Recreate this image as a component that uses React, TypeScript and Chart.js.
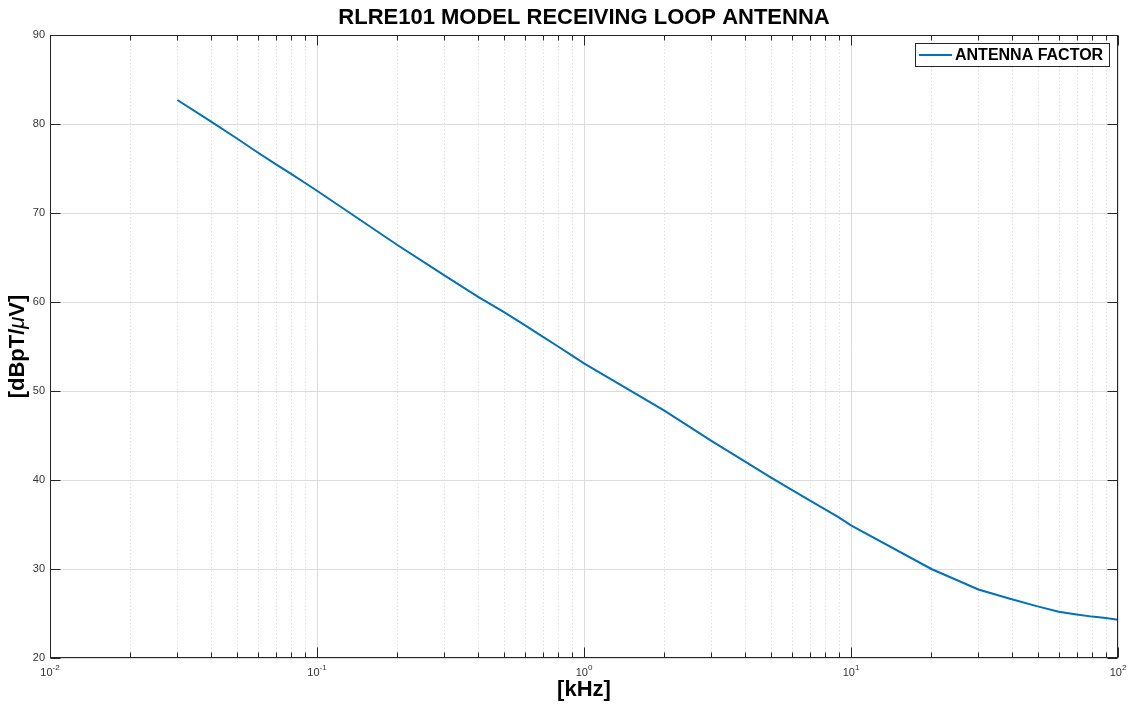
import React, { useEffect, useRef } from 'react';
import { Chart, registerables } from 'chart.js';

Chart.register(...registerables);

const chartTitle = 'RLRE101 MODEL RECEIVING LOOP ANTENNA';
const seriesLabel = 'ANTENNA FACTOR';
const xAxisLabel = '[kHz]';
const yAxisLabelParts = ['[dBpT/', 'μ', 'V]'];

const frequencyKHz = [
  0.03, 0.04, 0.05, 0.06, 0.07, 0.08, 0.09,
  0.1, 0.2, 0.3, 0.4, 0.5, 0.6, 0.7, 0.8, 0.9,
  1, 2, 3, 4, 5, 6, 7, 8, 9,
  10, 20, 30, 40, 50, 60, 70, 80, 90, 100,
];
const antennaFactorDb = [
  82.7, 80.3, 78.4, 76.8, 75.5, 74.4, 73.4,
  72.5, 66.4, 63.0, 60.6, 58.9, 57.4, 56.1, 55.0, 54.0,
  53.1, 47.8, 44.4, 42.1, 40.3, 38.9, 37.7, 36.7, 35.8,
  34.9, 30.0, 27.7, 26.6, 25.8, 25.2, 24.9, 24.65, 24.5, 24.3,
];

const xDecadeExponents = [-2, -1, 0, 1, 2];
const xMin = 0.01;
const xMax = 100;
const yMin = 20;
const yMax = 90;
const yStep = 10;

const FONT = '"Liberation Sans", Arial, Helvetica, sans-serif';
const AXIS_COLOR = '#262626';
const LINE_COLOR = '#0072BD';

const matlabPlugin = {
  id: 'matlabAxes',
  beforeDatasetsDraw(chart: any) {
    const { ctx, chartArea: a } = chart;
    const x = chart.scales.x;
    const y = chart.scales.y;
    ctx.save();
    ctx.lineWidth = 1;
    const vline = (px: number) => {
      ctx.beginPath();
      ctx.moveTo(px, a.top);
      ctx.lineTo(px, a.bottom);
      ctx.stroke();
    };
    ctx.strokeStyle = '#e2e2e2';
    ctx.setLineDash([1.5, 2]);
    for (const e of xDecadeExponents.slice(0, -1)) {
      for (let m = 2; m <= 9; m++) {
        vline(Math.round(x.getPixelForValue(m * Math.pow(10, e))) + 0.5);
      }
    }
    ctx.setLineDash([]);
    ctx.strokeStyle = '#dcdcdc';
    for (const e of xDecadeExponents) {
      vline(Math.round(x.getPixelForValue(Math.pow(10, e))) + 0.5);
    }
    for (let v = yMin; v <= yMax; v += yStep) {
      const py = Math.round(y.getPixelForValue(v)) + 0.5;
      ctx.beginPath();
      ctx.moveTo(a.left, py);
      ctx.lineTo(a.right, py);
      ctx.stroke();
    }
    ctx.restore();
  },
  afterDatasetsDraw(chart: any) {
    const { ctx, chartArea: a } = chart;
    const x = chart.scales.x;
    const y = chart.scales.y;
    ctx.save();
    ctx.strokeStyle = AXIS_COLOR;
    ctx.lineWidth = 1;
    const seg = (x1: number, y1: number, x2: number, y2: number) => {
      ctx.beginPath();
      ctx.moveTo(x1, y1);
      ctx.lineTo(x2, y2);
      ctx.stroke();
    };
    const L = Math.round(a.left) + 0.5;
    const R = Math.round(a.right) - 0.5;
    const T = Math.round(a.top) + 0.5;
    const B = Math.round(a.bottom) - 0.5;
    ctx.strokeRect(L, T, R - L, B - T);
    for (const e of xDecadeExponents) {
      const px = Math.round(x.getPixelForValue(Math.pow(10, e))) + 0.5;
      seg(px, B, px, B - 10);
      seg(px, T, px, T + 10);
      if (e < xDecadeExponents[xDecadeExponents.length - 1]) {
        for (let m = 2; m <= 9; m++) {
          const mx = Math.round(x.getPixelForValue(m * Math.pow(10, e))) + 0.5;
          seg(mx, B, mx, B - 5);
          seg(mx, T, mx, T + 5);
        }
      }
    }
    for (let v = yMin; v <= yMax; v += yStep) {
      const py = Math.round(y.getPixelForValue(v)) + 0.5;
      seg(L, py, L + 10, py);
      seg(R, py, R - 10, py);
    }
    // x tick labels 10^e
    ctx.fillStyle = '#333333';
    ctx.textBaseline = 'middle';
    for (const e of xDecadeExponents) {
      const px = x.getPixelForValue(Math.pow(10, e));
      ctx.font = `11px ${FONT}`;
      const base = '10';
      const bw = ctx.measureText(base).width;
      ctx.font = `8px ${FONT}`;
      const exp = String(e);
      const ew = ctx.measureText(exp).width;
      const start = px - (bw + ew) / 2;
      ctx.font = `11px ${FONT}`;
      ctx.textAlign = 'left';
      ctx.fillText(base, start, a.bottom + 15);
      ctx.font = `8px ${FONT}`;
      ctx.fillText(exp, start + bw, a.bottom + 10);
    }
    // axis labels
    ctx.fillStyle = '#000000';
    ctx.textAlign = 'center';
    ctx.font = `bold 22px ${FONT}`;
    ctx.fillText(xAxisLabel, (a.left + a.right) / 2, 690);
    ctx.save();
    ctx.translate(18, (a.top + a.bottom) / 2);
    ctx.rotate(-Math.PI / 2);
    const fonts = [`bold 22px ${FONT}`, `italic 22px ${FONT}`, `bold 22px ${FONT}`];
    const widths = yAxisLabelParts.map((p, i) => {
      ctx.font = fonts[i];
      return ctx.measureText(p).width;
    });
    let cx = -widths.reduce((s, w) => s + w, 0) / 2;
    ctx.textAlign = 'left';
    yAxisLabelParts.forEach((p, i) => {
      ctx.font = fonts[i];
      ctx.fillText(p, cx, 0);
      cx += widths[i];
    });
    ctx.restore();
    // title
    ctx.textAlign = 'center';
    ctx.font = `bold 22px ${FONT}`;
    ctx.fillText(chartTitle, (a.left + a.right) / 2, 18);
    // legend
    const ds = chart.data.datasets[0];
    ctx.fillStyle = '#ffffff';
    ctx.fillRect(915.5, 43.5, 194, 23);
    ctx.strokeStyle = AXIS_COLOR;
    ctx.lineWidth = 1;
    ctx.strokeRect(915.5, 43.5, 194, 23);
    ctx.strokeStyle = ds.borderColor;
    ctx.lineWidth = 2;
    seg(919, 55, 952, 55);
    ctx.fillStyle = '#000000';
    ctx.textAlign = 'left';
    ctx.font = `bold 16px ${FONT}`;
    ctx.fillText(ds.label, 955, 56);
    ctx.restore();
  },
};

export default function App() {
  const canvasRef = useRef<HTMLCanvasElement | null>(null);

  useEffect(() => {
    const canvas = canvasRef.current;
    if (!canvas) return;
    const chart = new Chart(canvas, {
      type: 'line',
      data: {
        datasets: [
          {
            label: seriesLabel,
            data: frequencyKHz.map((f, i) => ({ x: f, y: antennaFactorDb[i] })),
            borderColor: LINE_COLOR,
            backgroundColor: LINE_COLOR,
            borderWidth: 2,
            pointRadius: 0,
            tension: 0,
            fill: false,
          },
        ],
      },
      options: {
        responsive: false,
        animation: false,
        devicePixelRatio: 1,
        layout: { padding: { top: 35, right: 13, bottom: 0, left: 0 } },
        plugins: {
          legend: { display: false },
          tooltip: { enabled: false },
          title: { display: false },
        },
        scales: {
          x: {
            type: 'logarithmic',
            min: xMin,
            max: xMax,
            grid: { display: false, drawTicks: false },
            border: { display: false },
            ticks: { display: false },
            afterFit: (s: any) => {
              s.height = 51;
            },
          },
          y: {
            type: 'linear',
            min: yMin,
            max: yMax,
            grid: { display: false, drawTicks: false },
            border: { display: false },
            ticks: {
              stepSize: yStep,
              padding: 5,
              color: '#333333',
              font: { family: FONT, size: 11 },
            },
            afterFit: (s: any) => {
              s.width = 50;
            },
          },
        },
      },
      plugins: [matlabPlugin],
    });
    return () => chart.destroy();
  }, []);

  return (
    <div style={{ position: 'fixed', left: 0, top: 0, width: 1131, height: 709, background: '#ffffff' }}>
      <canvas ref={canvasRef} width={1131} height={709} style={{ width: 1131, height: 709 }} />
    </div>
  );
}
